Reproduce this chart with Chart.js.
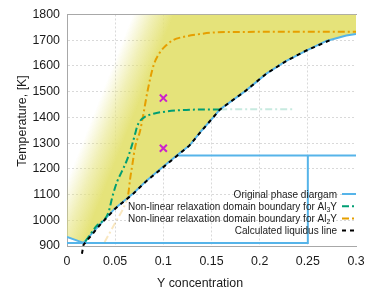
<!DOCTYPE html>
<html>
<head>
<meta charset="utf-8">
<script src="https://cdn.jsdelivr.net/npm/chart.js@4"></script>
<style>
  html, body { margin: 0; padding: 0; background: #fff; }
  canvas { display: block; }
</style>
</head>
<body>
<canvas id="phaseChart" width="377" height="290"></canvas>
<script>
// Original phase diagram: liquidus (with the short Al-side piece before the eutectic)
const liquidusX = [0, 0.0172, 0.0345, 0.05, 0.0689, 0.0828, 0.0966, 0.1139, 0.1273, 0.1398, 0.1518, 0.1587, 0.186, 0.207, 0.2277, 0.2484, 0.2692, 0.2899, 0.3];
const liquidusT = [935, 912, 985, 1047, 1105, 1155, 1198, 1252, 1291, 1349, 1400, 1431, 1505, 1570, 1620, 1659, 1697, 1718, 1724];
// eutectic line + Al3Y composition line
const solidusX = [0, 0.25, 0.25];
const solidusT = [912, 912, 1252];
// peritectic line
const peritecticX = [0.1139, 0.3];
const peritecticT = [1252, 1252];

// calculated liquidus
const calcX = [0.0155, 0.0172, 0.0345, 0.05, 0.069, 0.083, 0.097, 0.114, 0.127, 0.14, 0.152, 0.159, 0.186, 0.207, 0.228, 0.248, 0.275];
const calcT = [870, 905, 983, 1045, 1104, 1154, 1197, 1250, 1290, 1349, 1401, 1431, 1505, 1570, 1620, 1659, 1703];

// non-linear relaxation domain boundaries
const al3yX = [0.019, 0.03, 0.043, 0.047, 0.052, 0.057, 0.062, 0.0673, 0.0707, 0.0728, 0.0758, 0.0805, 0.0897, 0.1035, 0.124, 0.159, 0.2366];
const al3yT = [917, 975, 1030, 1090, 1150, 1190, 1232, 1290, 1336, 1364, 1386, 1401, 1414, 1423, 1429, 1431, 1432];
const al2yX = [0.039, 0.05, 0.06, 0.0635, 0.0655, 0.068, 0.0707, 0.0759, 0.0793, 0.0835, 0.0897, 0.096, 0.103, 0.11, 0.12, 0.135, 0.15, 0.18, 0.3];
const al2yT = [915, 990, 1060, 1100, 1160, 1220, 1284, 1348, 1413, 1500, 1600, 1650, 1680, 1700, 1712, 1722, 1729, 1732, 1733];

// marked points
const markX = [0.1, 0.1];
const markT = [1475, 1280];

const xTicks = [0, 0.05, 0.1, 0.15, 0.2, 0.25, 0.3];
const yTicks = [900, 1000, 1100, 1200, 1300, 1400, 1500, 1600, 1700, 1800];

// soft left edge of the yellow area (two points on the edge, data units)
const fadeEdgeX = [0.0086, 0.0862];
const fadeEdgeT = [1001, 1736];

const FONT = "'Liberation Sans', Arial, sans-serif";
const pts = (xs, ys) => xs.map((x, i) => ({ x: x, y: ys[i] }));
const blue = '#56b4e9', green = '#009e73', orange = '#e69f00', magenta = '#cc22cc';
const yellow = 'rgba(229,227,122,';

function yellowFill(c) {
  const chart = c.chart;
  const sx = chart.scales.x, sy = chart.scales.y;
  if (!chart.chartArea || !sx || !sy) return yellow + '1)';
  const x0 = sx.getPixelForValue(fadeEdgeX[0]), y0 = sy.getPixelForValue(fadeEdgeT[0]);
  const x1 = sx.getPixelForValue(fadeEdgeX[1]), y1 = sy.getPixelForValue(fadeEdgeT[1]);
  const len = Math.hypot(x1 - x0, y1 - y0);
  const nx = -(y1 - y0) / len, ny = (x1 - x0) / len;
  const mx = (x0 + x1) / 2, my = (y0 + y1) / 2;
  const g = chart.ctx.createLinearGradient(mx - 22 * nx, my - 22 * ny, mx + 16 * nx, my + 16 * ny);
  g.addColorStop(0, yellow + '0)');
  g.addColorStop(0.5, yellow + '0.55)');
  g.addColorStop(1, yellow + '1)');
  return g;
}

// legend inside the plot, text right aligned, sample on the right
const SUBS = '₀₁₂₃₄₅₆₇₈₉';
function drawRich(ctx, text, right, y) {
  const parts = [];
  for (const ch of text) {
    const k = SUBS.indexOf(ch);
    if (k >= 0) parts.push({ t: String(k), sub: true });
    else if (parts.length && !parts[parts.length - 1].sub) parts[parts.length - 1].t += ch;
    else parts.push({ t: ch, sub: false });
  }
  const fMain = '10px ' + FONT, fSub = '7px ' + FONT;
  let w = 0;
  parts.forEach(p => { ctx.font = p.sub ? fSub : fMain; p.w = ctx.measureText(p.t).width; w += p.w; });
  let x = right - w;
  ctx.textAlign = 'left';
  ctx.textBaseline = 'alphabetic';
  parts.forEach(p => {
    ctx.font = p.sub ? fSub : fMain;
    ctx.fillText(p.t, x, y + 3.5 + (p.sub ? 2.5 : 0));
    x += p.w;
  });
}

const insideLegend = {
  id: 'insideLegend',
  afterDraw(chart) {
    const ctx = chart.ctx, a = chart.chartArea;
    const rows = chart.data.datasets.filter(d => d.legendRow !== undefined)
      .sort((p, q) => p.legendRow - q.legendRow);
    ctx.save();
    ctx.fillStyle = '#1a1a1a';
    rows.forEach((d, i) => {
      const y = a.bottom - 52 + i * 12.2;
      drawRich(ctx, d.label, a.right - 19, y);
      ctx.beginPath();
      ctx.setLineDash(d.borderDash || []);
      ctx.strokeStyle = d.borderColor;
      ctx.lineWidth = d.borderWidth;
      ctx.moveTo(a.right - 14, y);
      ctx.lineTo(a.right, y);
      ctx.stroke();
    });
    ctx.restore();
  }
};

const axisTitles = {
  id: 'axisTitles',
  afterDraw(chart) {
    const ctx = chart.ctx;
    ctx.save();
    ctx.fillStyle = '#1a1a1a';
    ctx.font = '12.4px ' + FONT;
    ctx.textAlign = 'center';
    ctx.textBaseline = 'alphabetic';
    ctx.fillText('Y concentration', 200, 287);
    ctx.translate(25.6, 121);
    ctx.rotate(-Math.PI / 2);
    ctx.fillText('Temperature, [K]', 0, 0);
    ctx.restore();
  }
};

const dashDot = [7, 3, 2, 3];

new Chart(document.getElementById('phaseChart'), {
  type: 'line',
  data: {
    datasets: [
      {
        label: 'marks',
        data: pts(markX, markT),
        showLine: false,
        pointStyle: 'crossRot',
        pointRadius: 5,
        pointBorderWidth: 2,
        pointBorderColor: magenta,
        borderColor: magenta
      },
      {
        label: 'Calculated liquidus line',
        legendRow: 3,
        data: pts(calcX, calcT),
        borderColor: '#000',
        borderWidth: 2,
        borderDash: [4, 4],
        pointRadius: 0,
        clip: false
      },
      {
        label: 'Non-linear relaxation domain boundary for Al₃Y',
        legendRow: 1,
        data: pts(al3yX, al3yT),
        borderColor: green,
        borderWidth: 2,
        borderDash: dashDot,
        pointRadius: 0,
        cubicInterpolationMode: 'monotone',
        segment: {
          borderColor: c => c.p0.parsed.x >= 0.159 ? 'rgba(0,158,115,0.22)' : undefined
        }
      },
      {
        label: 'Non-linear relaxation domain boundary for Al₂Y',
        legendRow: 2,
        data: pts(al2yX, al2yT),
        borderColor: orange,
        borderWidth: 2,
        borderDash: dashDot,
        pointRadius: 0,
        cubicInterpolationMode: 'monotone',
        segment: {
          borderColor: c => c.p1.parsed.x <= 0.0635 ? 'rgba(230,159,0,0.25)' : undefined
        }
      },
      {
        label: 'solidus',
        data: pts(solidusX, solidusT),
        borderColor: blue,
        borderWidth: 2,
        pointRadius: 0
      },
      {
        label: 'peritectic',
        data: pts(peritecticX, peritecticT),
        borderColor: blue,
        borderWidth: 2,
        pointRadius: 0
      },
      {
        label: 'Original phase diargam',
        legendRow: 0,
        data: pts(liquidusX, liquidusT),
        borderColor: blue,
        borderWidth: 2,
        pointRadius: 0,
        fill: 'end',
        backgroundColor: yellowFill
      }
    ]
  },
  options: {
    responsive: false,
    animation: false,
    layout: { padding: { top: 13.5, right: 21, left: 0, bottom: 0 } },
    plugins: {
      legend: { display: false },
      tooltip: { enabled: false },
      filler: { drawTime: 'beforeDatasetsDraw' }
    },
    scales: {
      x: {
        type: 'linear',
        min: 0, max: 0.3,
        afterBuildTicks: s => { s.ticks = xTicks.map(v => ({ value: v })); },
        afterFit: s => { s.height = 44; },
        ticks: {
          padding: 8,
          color: '#1a1a1a',
          font: { family: FONT, size: 12.4 },
          maxRotation: 0,
          callback: v => String(+v.toFixed(2))
        },
        grid: {
          drawTicks: false,
          color: c => (c.tick && c.tick.value >= 0.3) ? 'rgba(0,0,0,0)' : '#d9d9d9'
        },
        border: { color: '#a8a8a8', width: 1, dash: [2, 2] }
      },
      xTop: {
        type: 'linear',
        position: 'top',
        min: 0, max: 0.3,
        afterFit: s => { s.height = 0; },
        ticks: { display: false },
        grid: { display: false, drawTicks: false },
        border: { color: '#a8a8a8', width: 1 }
      },
      y: {
        type: 'linear',
        min: 900, max: 1800,
        afterBuildTicks: s => { s.ticks = yTicks.map(v => ({ value: v })); },
        afterFit: s => { s.width = 67; },
        ticks: {
          padding: 7,
          color: '#1a1a1a',
          font: { family: FONT, size: 12.4 },
          callback: v => String(v)
        },
        grid: { drawTicks: false, color: '#d9d9d9' },
        border: { color: '#a8a8a8', width: 1, dash: [2, 2] }
      }
    }
  },
  plugins: [insideLegend, axisTitles]
});
</script>
</body>
</html>
